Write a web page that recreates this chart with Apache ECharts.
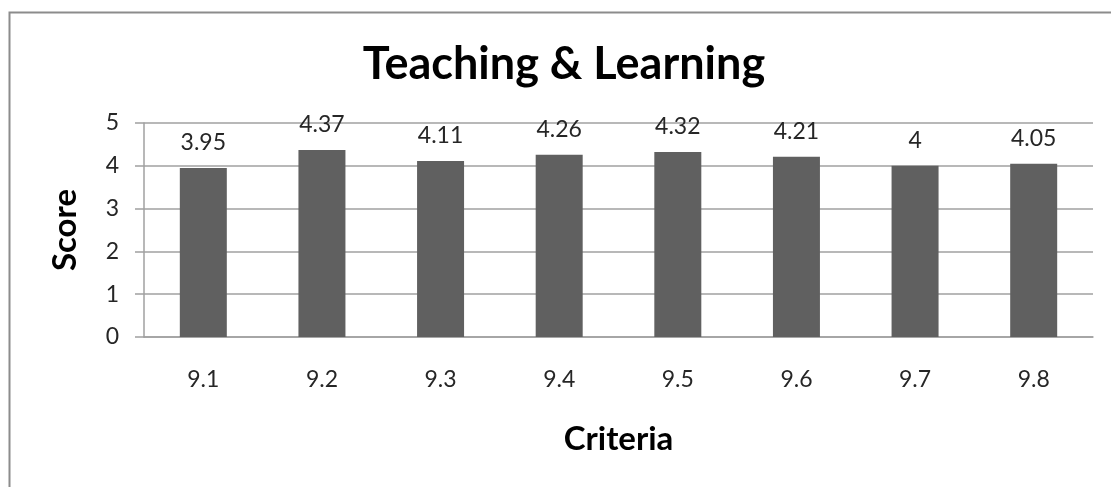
<!DOCTYPE html>
<html>
<head>
<meta charset="utf-8">
<style>
  html, body { margin: 0; padding: 0; background: #fff; }
  #chart { width: 1111px; height: 487px; }
</style>
<script src="https://cdn.jsdelivr.net/npm/echarts@6/dist/echarts.min.js"></script>
</head>
<body>
<div id="chart"></div>
<script>
// Criteria codes along the horizontal axis
const criteria = ['9.1', '9.2', '9.3', '9.4', '9.5', '9.6', '9.7', '9.8'];
// Mean score per criterion
const scores = [3.95, 4.37, 4.11, 4.26, 4.32, 4.21, 4, 4.05];
// Score axis range
const scoreTicks = [0, 1, 2, 3, 4, 5];

const FONT = 'Lato, "Open Sans", sans-serif';
const chart = echarts.init(document.getElementById('chart'), null, { renderer: 'canvas' });

chart.setOption({
  backgroundColor: '#ffffff',
  animation: false,
  graphic: [{
    type: 'rect',
    left: 7, top: 10,
    shape: { width: 1300, height: 700 },
    style: { fill: 'none', stroke: '#8c8c8c', lineWidth: 2 },
    silent: true
  }],
  title: {
    text: 'Teaching & Learning',
    left: 559,
    top: 37,
    textAlign: 'center',
    textStyle: { fontFamily: FONT, fontWeight: 'bold', fontSize: 45, color: '#000' }
  },
  grid: { left: 144, right: 18, top: 123, bottom: 150, containLabel: false },
  xAxis: {
    type: 'category',
    data: criteria,
    name: 'Criteria',
    nameLocation: 'middle',
    nameGap: 86,
    nameTextStyle: { fontFamily: FONT, fontWeight: 'bold', fontSize: 33, color: '#000' },
    axisLine: { lineStyle: { color: '#a0a0a0', width: 1.5 } },
    axisTick: { show: false },
    axisLabel: { margin: 31, fontFamily: FONT, fontSize: 23, color: '#262626' }
  },
  yAxis: {
    type: 'value',
    min: scoreTicks[0],
    max: scoreTicks[scoreTicks.length - 1],
    interval: 1,
    name: 'Score',
    nameLocation: 'middle',
    nameRotate: 90,
    nameGap: 62,
    nameTextStyle: { fontFamily: FONT, fontWeight: 'bold', fontSize: 33, color: '#000' },
    axisLine: { show: true, lineStyle: { color: '#a0a0a0', width: 1.5 } },
    axisTick: { show: true, length: 9, lineStyle: { color: '#a0a0a0', width: 1.5 } },
    axisLabel: { margin: 25, fontFamily: FONT, fontSize: 23, color: '#262626' },
    splitLine: { lineStyle: { color: '#a0a0a0', width: 1.5 } }
  },
  series: [{
    type: 'bar',
    data: scores,
    barWidth: 47,
    itemStyle: { color: '#606060' },
    label: {
      show: true,
      position: 'top',
      distance: 14,
      fontFamily: FONT,
      fontSize: 23,
      color: '#262626'
    }
  }]
});
</script>
</body>
</html>
